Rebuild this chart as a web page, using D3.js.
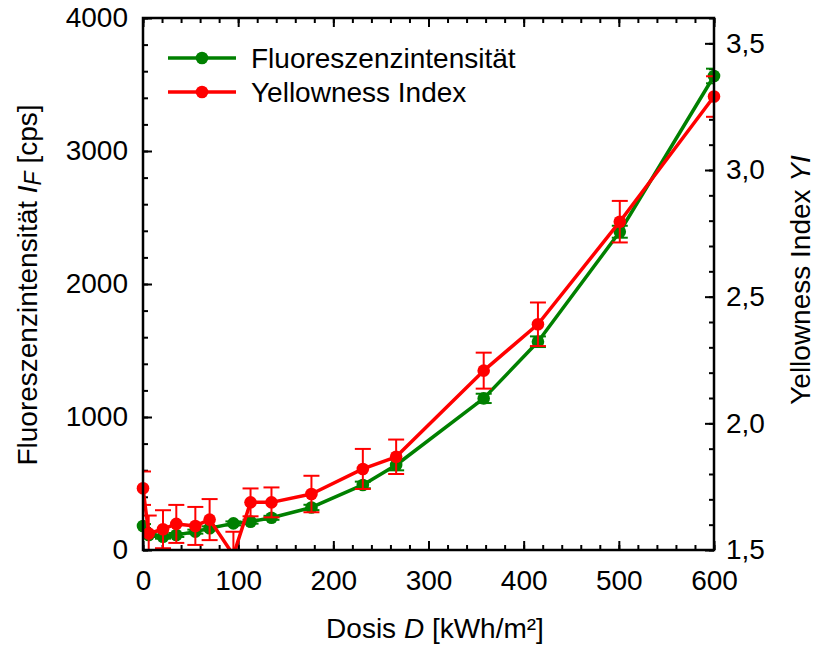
<!DOCTYPE html>
<html>
<head>
<meta charset="utf-8">
<script src="https://cdn.jsdelivr.net/npm/d3@7"></script>
<style>
  html, body { margin: 0; padding: 0; background: #fff; }
  svg { display: block; font-family: "Liberation Sans", Arial, sans-serif; }
</style>
</head>
<body>
<svg id="chart" width="816" height="646"></svg>
<script>
// Irradiation dose D in kWh/m²
const dose = [0, 6, 21, 35, 55, 70, 95, 113, 135, 177, 231, 266, 358, 415, 501, 600];
// Fluorescence intensity I_F [cps] and its error
const fluorescence = [180, 113, 100, 113, 138, 163, 200, 213, 242, 320, 489, 639, 1140, 1566, 2393, 3564];
const fluorescenceErr = [15, 15, 15, 15, 15, 15, 15, 15, 15, 20, 25, 40, 35, 40, 45, 55];
// Yellowness index YI and its error
const yellowness = [1.744, 1.565, 1.582, 1.603, 1.595, 1.620, 1.48, 1.688, 1.688, 1.721, 1.820, 1.868, 2.208, 2.391, 2.796, 3.290];
const yellownessErr = [0.066, 0.071, 0.075, 0.075, 0.075, 0.081, 0.092, 0.055, 0.059, 0.072, 0.079, 0.068, 0.071, 0.086, 0.082, 0.080];

const leftTicks = [0, 1000, 2000, 3000, 4000];
const rightTicks = [1.5, 2.0, 2.5, 3.0, 3.5];
const xTicks = [0, 100, 200, 300, 400, 500, 600];

const GREEN = "#008000";
const RED = "#ff0000";
const FONT = 28;

const svg = d3.select("#chart");
const plot = { left: 143, right: 714, top: 18, bottom: 550 };

const x = d3.scaleLinear().domain([0, 600]).range([plot.left, plot.right]);
const yL = d3.scaleLinear().domain([0, 4000]).range([plot.bottom, plot.top]);
const yR = d3.scaleLinear().domain([1.5, 3.6]).range([plot.bottom, plot.top]);

// marks are cut off at the bottom frame line; error bars at the whole frame
const defs = svg.append("defs");
defs.append("clipPath").attr("id", "plotClip")
  .append("rect")
  .attr("x", plot.left).attr("y", plot.top)
  .attr("width", plot.right - plot.left).attr("height", plot.bottom - plot.top);
defs.append("clipPath").attr("id", "floorClip")
  .append("rect")
  .attr("x", 0).attr("y", 0).attr("width", 816).attr("height", plot.bottom + 1);

// ---- axes (inward ticks, minor + major) ----
function styleAxis(g) {
  g.select(".domain").remove();
  g.selectAll(".tick line").attr("stroke", "#000").attr("stroke-width", 2);
  g.selectAll(".tick text").attr("fill", "#000").style("font-size", FONT + "px");
}

const xMinor = d3.range(0, 601, 20);
const yLMinor = d3.range(0, 4001, 200);
const yRMinor = d3.range(15, 37).map(v => v / 10);

// bottom
svg.append("g").attr("transform", `translate(0,${plot.bottom})`)
  .call(d3.axisBottom(x).tickValues(xMinor).tickSize(-5).tickFormat(""))
  .call(styleAxis);
svg.append("g").attr("transform", `translate(0,${plot.bottom})`)
  .call(d3.axisBottom(x).tickValues(xTicks).tickSize(-9).tickPadding(20).tickFormat(d3.format("d")))
  .call(styleAxis);
// top
svg.append("g").attr("transform", `translate(0,${plot.top})`)
  .call(d3.axisTop(x).tickValues(xMinor).tickSize(-5).tickFormat(""))
  .call(styleAxis);
svg.append("g").attr("transform", `translate(0,${plot.top})`)
  .call(d3.axisTop(x).tickValues(xTicks).tickSize(-9).tickFormat(""))
  .call(styleAxis);
// left
svg.append("g").attr("transform", `translate(${plot.left},0)`)
  .call(d3.axisLeft(yL).tickValues(yLMinor).tickSize(-5).tickFormat(""))
  .call(styleAxis);
svg.append("g").attr("transform", `translate(${plot.left},0)`)
  .call(d3.axisLeft(yL).tickValues(leftTicks).tickSize(-9).tickPadding(15).tickFormat(d3.format("d")))
  .call(styleAxis);
// right
const commaFmt = d => d3.format(".1f")(d).replace(".", ",");
svg.append("g").attr("transform", `translate(${plot.right},0)`)
  .call(d3.axisRight(yR).tickValues(yRMinor).tickSize(-5).tickFormat(""))
  .call(styleAxis);
svg.append("g").attr("transform", `translate(${plot.right},0)`)
  .call(d3.axisRight(yR).tickValues(rightTicks).tickSize(-9).tickPadding(12).tickFormat(commaFmt))
  .call(styleAxis);

// ---- series ----
function drawSeries(values, errors, yScale, color) {
  const pts = dose.map((d, i) => ({ d, v: values[i], e: errors[i] }));
  const g = svg.append("g").attr("clip-path", "url(#floorClip)");
  const eb = g.append("g").attr("clip-path", "url(#plotClip)")
    .attr("stroke", color).attr("stroke-width", 2).attr("fill", "none");
  pts.forEach(p => {
    const cx = x(p.d), y0 = yScale(p.v - p.e), y1 = yScale(p.v + p.e);
    eb.append("line").attr("x1", cx).attr("x2", cx).attr("y1", y0).attr("y2", y1);
    eb.append("line").attr("x1", cx - 8).attr("x2", cx + 8).attr("y1", y0).attr("y2", y0);
    eb.append("line").attr("x1", cx - 8).attr("x2", cx + 8).attr("y1", y1).attr("y2", y1);
  });
  g.append("path").datum(pts)
    .attr("fill", "none").attr("stroke", color).attr("stroke-width", 3.5)
    .attr("stroke-linejoin", "round")
    .attr("d", d3.line().x(p => x(p.d)).y(p => yScale(p.v)));
  g.selectAll("circle").data(pts).join("circle")
    .attr("cx", p => x(p.d)).attr("cy", p => yScale(p.v)).attr("r", 6.3)
    .attr("fill", color);
}
drawSeries(fluorescence, fluorescenceErr, yL, GREEN);
drawSeries(yellowness, yellownessErr, yR, RED);

// frame
svg.append("rect")
  .attr("x", plot.left).attr("y", plot.top)
  .attr("width", plot.right - plot.left).attr("height", plot.bottom - plot.top)
  .attr("fill", "none").attr("stroke", "#000").attr("stroke-width", 2.5);

// ---- legend ----
const legendItems = [
  { label: "Fluoreszenzintensität", color: GREEN, y: 58 },
  { label: "Yellowness Index", color: RED, y: 92 }
];
const lg = svg.append("g");
legendItems.forEach(it => {
  lg.append("line").attr("x1", 168).attr("x2", 236).attr("y1", it.y).attr("y2", it.y)
    .attr("stroke", it.color).attr("stroke-width", 3.5);
  lg.append("circle").attr("cx", 202).attr("cy", it.y).attr("r", 6.3).attr("fill", it.color);
  lg.append("text").attr("x", 251).attr("y", it.y).attr("dy", "0.35em")
    .style("font-size", FONT + "px").text(it.label);
});

// ---- axis titles ----
svg.append("text")
  .attr("x", 435).attr("y", 638)
  .attr("text-anchor", "middle").style("font-size", FONT + "px")
  .call(t => {
    t.append("tspan").text("Dosis ");
    t.append("tspan").style("font-style", "italic").text("D");
    t.append("tspan").text(" [kWh/m²]");
  });

svg.append("text")
  .attr("transform", "translate(37,285) rotate(-90)")
  .attr("text-anchor", "middle").style("font-size", FONT + "px")
  .call(t => {
    t.append("tspan").text("Fluoreszenzintensität ");
    t.append("tspan").style("font-style", "italic").text("I");
    t.append("tspan").style("font-style", "italic").style("font-size", "23px").attr("dy", 4).text("F");
    t.append("tspan").attr("dy", -4).text(" [cps]");
  });

svg.append("text")
  .attr("transform", "translate(810,280) rotate(-90)")
  .attr("text-anchor", "middle").style("font-size", FONT + "px")
  .call(t => {
    t.append("tspan").text("Yellowness Index ");
    t.append("tspan").style("font-style", "italic").text("YI");
  });
</script>
</body>
</html>
